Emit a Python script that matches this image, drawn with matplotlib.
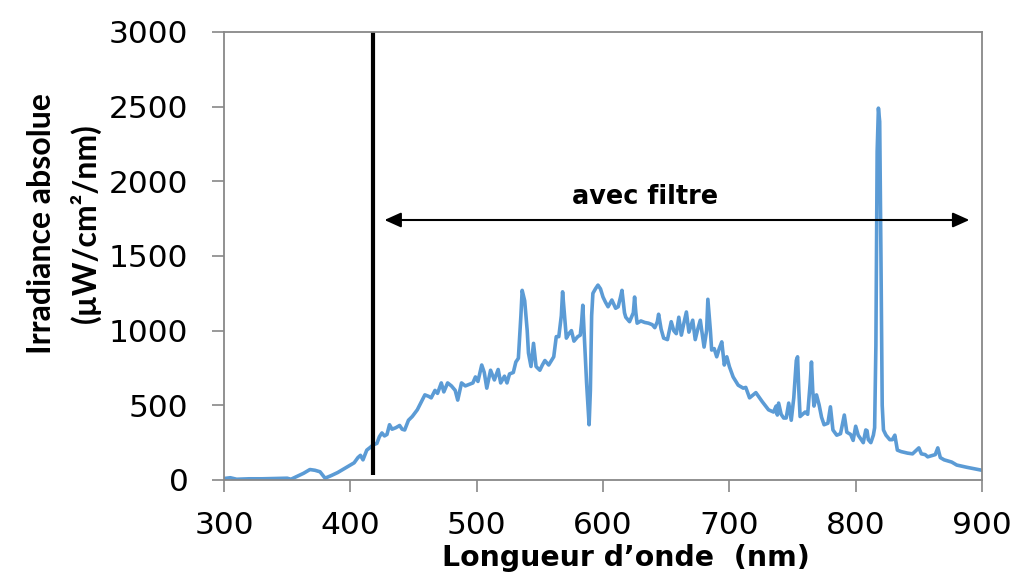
import matplotlib
matplotlib.use("Agg")
import matplotlib.pyplot as plt

wavelength = [300, 305, 310, 320, 330, 340, 350, 353, 358, 363, 368, 372, 376, 380, 385, 390, 395, 400,
              403, 406, 408, 410, 413, 416, 418, 421, 423, 425, 427, 429, 431, 433, 436, 439, 441, 443,
              446, 449, 453, 456, 459, 462, 464, 467, 469, 472, 474, 477, 480, 483, 485, 488, 491, 494,
              497, 499, 501, 504, 506, 508, 511, 514, 517, 519, 522, 524, 526, 529, 531, 533, 535, 536,
              538, 540, 541, 543, 545, 547, 550, 552, 554, 557, 561, 563, 565, 567, 568, 570, 571, 573,
              575, 577, 580, 582, 583, 584, 585, 587, 589, 590, 591, 592, 594, 596, 598, 600, 602, 604,
              607, 610, 612, 614, 615, 617, 618, 621, 624, 625, 626, 627, 630, 633, 636, 639, 641, 643,
              644, 646, 648, 651, 654, 656, 658, 660, 662, 664, 666, 668, 671, 673, 675, 677, 680, 682,
              683, 685, 686, 688, 690, 692, 694, 696, 698, 700, 703, 707, 711, 713, 716, 721, 726, 731,
              735, 737, 738, 739, 741, 743, 745, 747, 749, 751, 753, 754, 755, 756, 760, 762, 764, 765,
              766, 767, 769, 771, 773, 775, 778, 780, 782, 785, 788, 791, 793, 796, 798, 800, 802, 806,
              808, 809, 810, 812, 814, 815, 816, 817, 818, 819, 820, 821, 822, 824, 827, 829, 831, 833,
              836, 841, 845, 850, 852, 855, 857, 861, 863, 865, 867, 870, 876, 880, 888, 894, 900]
irradiance = [10, 15, 5, 8, 8, 10, 12, 5, 25, 45, 70, 65, 55, 12, 30, 50, 75, 100,
              115, 150, 165, 135, 200, 220, 235, 245, 290, 315, 295, 305, 370, 340, 350, 365, 340, 335,
              400, 425, 470, 520, 570, 560, 550, 600, 580, 650, 590, 650, 630, 600, 535, 650, 630, 640,
              650, 690, 660, 770, 720, 615, 735, 670, 740, 650, 695, 650, 710, 720, 790, 815, 1100, 1270,
              1200, 1000, 850, 760, 915, 760, 735, 770, 800, 770, 825, 960, 960, 1100, 1260, 1050, 950, 980,
              1000, 930, 960, 970, 1050, 1170, 1000, 650, 370, 600, 1100, 1250, 1280, 1305, 1280, 1225, 1190, 1160,
              1205, 1150, 1160, 1230, 1270, 1120, 1090, 1060, 1120, 1225, 1120, 1050, 1065, 1055, 1050, 1040, 1020, 1060,
              1110, 1010, 950, 940, 1060, 1000, 980, 1090, 970, 1050, 1125, 990, 1070, 940, 1010, 1070, 890, 1000,
              1210, 1000, 870, 880, 825, 880, 925, 770, 825, 760, 690, 635, 615, 620, 550, 585, 525, 470,
              455, 495, 435, 515, 440, 415, 415, 515, 400, 550, 800, 825, 600, 425, 455, 440, 650, 790,
              600, 495, 570, 505, 420, 370, 380, 490, 335, 300, 310, 435, 320, 305, 265, 360, 300, 250,
              335, 330, 270, 250, 300, 350, 900, 2200, 2490, 2400, 1500, 500, 335, 300, 270, 270, 300, 200,
              190, 180, 175, 215, 175, 170, 155, 165, 170, 215, 150, 135, 120, 100, 85, 75, 65]

x_ticks = [300, 400, 500, 600, 700, 800, 900]
y_ticks = [0, 500, 1000, 1500, 2000, 2500, 3000]
filter_wavelength = 418
arrow_start, arrow_end, arrow_level = 427, 890, 1741
label_text = "avec filtre"

plt.rcParams['font.family'] = ['DejaVu Sans']

fig = plt.figure(figsize=(10.15, 5.87), dpi=100)
ax = fig.add_axes([0.2207, 0.1823, 0.7468, 0.7632])

ax.plot(wavelength, irradiance, color='#5B9BD5', linewidth=2.6, solid_joinstyle='round')
ax.plot([filter_wavelength, filter_wavelength], [33, 3000], color='black', linewidth=3, solid_capstyle='butt')

ax.annotate('', xy=(arrow_start, arrow_level), xytext=(arrow_end, arrow_level),
            arrowprops=dict(arrowstyle='<|-|>,head_length=1.0,head_width=0.45', color='black',
                            lw=1.5, shrinkA=0, shrinkB=0))
ax.text(633, 1895, label_text, ha='center', va='center', fontsize=18.4, fontweight='bold')

ax.set_xlim(300, 900)
ax.set_ylim(0, 3000)
ax.set_xticks(x_ticks)
ax.set_yticks(y_ticks)
ax.tick_params(axis='both', labelsize=22.5, direction='out', length=8.6, width=1.2, color='#888888')
ax.tick_params(axis='y', pad=17)
ax.tick_params(axis='x', pad=14)
for s in ax.spines.values():
    s.set_color('#888888')
    s.set_linewidth(1.3)

ax.set_xlabel("Longueur d\u2019onde  (nm)", fontsize=20.4, fontweight='bold')
ax.xaxis.set_label_coords(0.53, -0.142)
ax.set_ylabel("Irradiance absolue\n(\u00b5W/cm\u00b2/nm)", fontsize=23, fontweight='bold',
              family=['Lato', 'DejaVu Sans'], linespacing=1.5)
ax.yaxis.set_label_coords(-0.163, 0.5725)

fig.savefig('out.png', dpi=100)
